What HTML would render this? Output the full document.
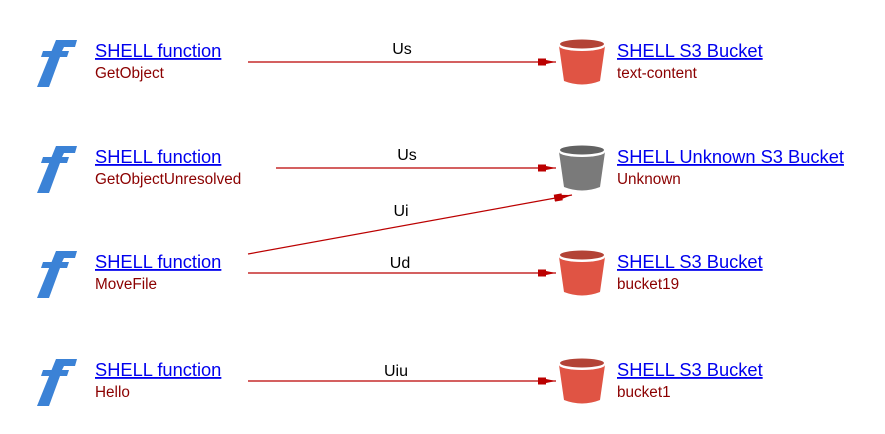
<!DOCTYPE html><html><head><style>body{margin:0;background:#fff}svg text{font-family:"Liberation Sans",sans-serif}</style></head><body>
<svg width="885" height="429" viewBox="0 0 885 429">
<defs>
<marker id="a" markerWidth="18" markerHeight="10" refX="18" refY="5" orient="auto" markerUnits="userSpaceOnUse"><path d="M0,1.5 L8,1.5 L8,3 L18,5 L8,7 L8,8.5 L0,8.5Z" fill="#b00"/></marker>
<g id="lam"><path d="M56,40 L77,40 L75,47 L64,47 L62,51 L69,51 L67,57 L60,57 L49,87 L37,87 Z M43,51 L53,51 L51,57 L41,57Z" fill="#3b82d6"/></g>
<g id="bk"><path d="M559,46 L564,81 Q582,88 600,81 L605,46 Z" fill="currentColor"/><ellipse cx="582" cy="46" rx="23" ry="5" fill="#fff"/><ellipse cx="582" cy="44" rx="22" ry="4.5" fill="currentColor" style="filter:brightness(.8)"/></g>
</defs>
<g stroke="#b00" stroke-width="1.2" marker-end="url(#a)">
<line x1="248" y1="62" x2="556" y2="62"/>
<line x1="276" y1="168" x2="556" y2="168"/>
<line x1="248" y1="254" x2="572" y2="195"/>
<line x1="248" y1="273" x2="556" y2="273"/>
<line x1="248" y1="381" x2="556" y2="381"/>
</g>
<g font-size="16" fill="#000" text-anchor="middle">
<text x="402" y="54">Us</text><text x="407" y="160">Us</text><text x="401" y="216">Ui</text><text x="400" y="268">Ud</text><text x="396" y="376">Uiu</text>
</g>
<use href="#lam"/><use href="#lam" y="106"/><use href="#lam" y="211"/><use href="#lam" y="319"/>
<g color="#e05444"><use href="#bk"/><use href="#bk" y="211"/><use href="#bk" y="319"/></g>
<g color="#7a7a7a"><use href="#bk" y="106"/></g>
<g font-size="18.3" fill="#00e" text-decoration="underline">
<text x="95" y="57">SHELL function</text><text x="95" y="163">SHELL function</text><text x="95" y="268">SHELL function</text><text x="95" y="376">SHELL function</text>
<text x="617" y="57">SHELL S3 Bucket</text><text x="617" y="163">SHELL Unknown S3 Bucket</text><text x="617" y="268">SHELL S3 Bucket</text><text x="617" y="376">SHELL S3 Bucket</text>
</g>
<g font-size="15.3" fill="#8b0000">
<text x="95" y="78">GetObject</text><text x="95" y="184">GetObjectUnresolved</text><text x="95" y="289">MoveFile</text><text x="95" y="397">Hello</text>
<text x="617" y="78">text-content</text><text x="617" y="184">Unknown</text><text x="617" y="289">bucket19</text><text x="617" y="397">bucket1</text>
</g>
</svg></body></html>
